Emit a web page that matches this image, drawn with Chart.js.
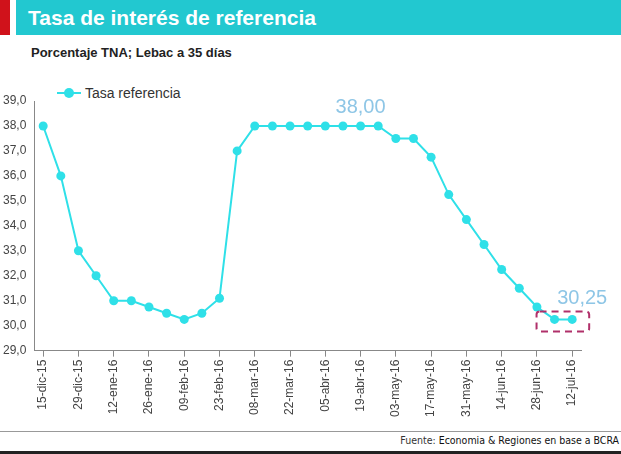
<!DOCTYPE html>
<html><head><meta charset="utf-8">
<script src="https://cdn.jsdelivr.net/npm/chart.js@4"></script>
<style>
body{margin:0;width:621px;height:454px;background:#fff;position:relative;overflow:hidden;font-family:"Liberation Sans",Arial,sans-serif}
#red{position:absolute;left:0;top:0;width:10px;height:35px;background:#d0121b}
#hdr{position:absolute;left:16px;top:0;right:0;height:35px;background:#22c8d0;color:#fff;font-weight:bold;font-size:21px;line-height:35px;padding-left:12px}
#sub{position:absolute;left:31px;top:45px;font-size:13px;font-weight:bold;color:#222}
#leg{position:absolute;left:57px;top:84px;font-size:14px;color:#333}
#leg span{display:inline-block;vertical-align:middle}
#foot{position:absolute;right:2px;top:434px;font-size:10.5px;color:#333;font-family:"DejaVu Sans Condensed","Liberation Sans Narrow",sans-serif}
#line{position:absolute;left:0;right:0;top:431px;height:1px;background:#999}
#bot{position:absolute;left:0;right:0;top:451px;height:3px;background:#222}
#c{position:absolute;left:0;top:85px}
</style></head><body>
<div id="red"></div><div id="hdr">Tasa de interés de referencia</div>
<div id="sub">Porcentaje TNA; Lebac a 35 días</div>
<div id="leg"><span style="width:24px;height:2px;background:#2fe0e8;position:relative"><span style="position:absolute;left:7px;top:-4px;width:10px;height:10px;border-radius:50%;background:#2fe0e8"></span></span> <span>Tasa referencia</span></div>
<canvas id="c" width="621" height="335"></canvas>
<div id="line"></div>
<div id="foot">Fuente: <b style="font-weight:normal;color:#111">Economia &amp; Regiones en base a BCRA</b></div>
<div id="bot"></div>
<script>
const dates=["15-dic-15","22-dic-15","29-dic-15","05-ene-16","12-ene-16","19-ene-16","26-ene-16","02-feb-16","09-feb-16","16-feb-16","23-feb-16","01-mar-16","08-mar-16","15-mar-16","22-mar-16","29-mar-16","05-abr-16","12-abr-16","19-abr-16","26-abr-16","03-may-16","10-may-16","17-may-16","24-may-16","31-may-16","07-jun-16","14-jun-16","21-jun-16","28-jun-16","05-jul-16","12-jul-16"];
const tasa=[38,36,33,32,31,31,30.75,30.5,30.25,30.5,31.1,37,38,38,38,38,38,38,38,38,37.5,37.5,36.75,35.25,34.25,33.25,32.25,31.5,30.75,30.25,30.25];
const labelPeak="38,00", labelLast="30,25";
const deco={id:'deco',afterDatasetsDraw(ch){
  const {ctx,scales:{x,y}}=ch;
  ctx.save();
  ctx.font='20px "Liberation Sans Narrow","Liberation Sans",sans-serif';
  ctx.fillStyle='#8ec6e6';ctx.textAlign='center';ctx.textBaseline='bottom';
  ctx.fillText(labelPeak,x.getPixelForValue(18),y.getPixelForValue(38)-8);
  ctx.fillText(labelLast,x.getPixelForValue(30)+10,y.getPixelForValue(30.25)-11);
  const x1=x.getPixelForValue(29)-18,x2=x.getPixelForValue(30)+17,y1=y.getPixelForValue(30.25)-8,y2=y.getPixelForValue(30.25)+12;
  ctx.strokeStyle='#b0306a';ctx.lineWidth=2;ctx.setLineDash([7,5]);
  ctx.beginPath();ctx.roundRect(x1,y1,x2-x1,y2-y1,3);ctx.stroke();
  ctx.restore();}};
new Chart(document.getElementById('c'),{type:'line',
 data:{labels:dates,datasets:[{data:tasa,borderColor:'#2fe0e8',backgroundColor:'#2fe0e8',pointRadius:4.5,borderWidth:2,pointBorderWidth:0}]},
 options:{responsive:false,animation:false,devicePixelRatio:1,
  layout:{padding:{top:16,right:40,left:0}},
  plugins:{legend:{display:false},tooltip:{enabled:false}},
  scales:{
   y:{min:29,max:39,ticks:{stepSize:1,color:'#444',font:{size:12,family:'"Liberation Sans Narrow","Liberation Sans",sans-serif'},callback:v=>v.toFixed(1).replace('.',',')},grid:{display:false,drawTicks:true,tickLength:5},border:{color:'#888'}},
   x:{offset:true,ticks:{autoSkip:false,maxRotation:90,minRotation:90,color:'#444',font:{size:12,family:'"Liberation Sans Narrow","Liberation Sans",sans-serif'},callback:(v,i)=>i%2===0?dates[i]:''},
      grid:{display:true,drawOnChartArea:false,tickLength:6,color:(c)=>c.index%2===0?'#888':'rgba(0,0,0,0)'},border:{color:'#888'}}
  }}, plugins:[deco]});
</script>
</body></html>
